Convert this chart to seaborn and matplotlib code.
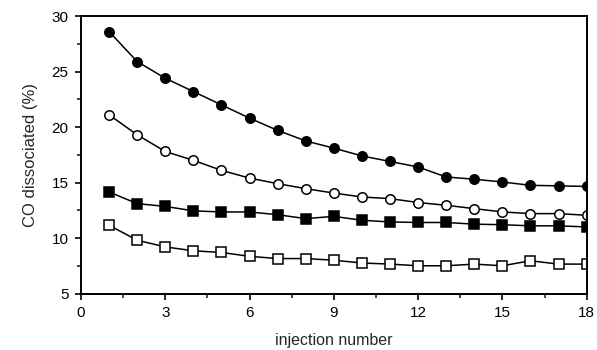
import matplotlib
matplotlib.use("Agg")
import matplotlib.pyplot as plt
import seaborn as sns
import pandas as pd
from matplotlib.ticker import MultipleLocator

injection = list(range(1, 19))
filled_circle = [28.6, 25.9, 24.4, 23.2, 22.0, 20.8, 19.7, 18.75, 18.1, 17.4, 16.9, 16.4, 15.5, 15.3, 15.05, 14.75, 14.7, 14.65]
open_circle = [21.1, 19.3, 17.8, 17.0, 16.1, 15.4, 14.9, 14.45, 14.05, 13.7, 13.55, 13.2, 12.95, 12.65, 12.35, 12.2, 12.2, 12.05]
filled_square = [14.15, 13.1, 12.85, 12.45, 12.35, 12.35, 12.1, 11.75, 11.95, 11.6, 11.45, 11.4, 11.4, 11.25, 11.2, 11.1, 11.1, 11.0]
open_square = [11.15, 9.8, 9.2, 8.85, 8.7, 8.35, 8.15, 8.15, 8.0, 7.75, 7.65, 7.5, 7.5, 7.65, 7.5, 7.95, 7.65, 7.65]

series = {
    "filled_circle": (filled_circle, "o", "black"),
    "open_circle": (open_circle, "o", "white"),
    "filled_square": (filled_square, "s", "black"),
    "open_square": (open_square, "s", "white"),
}

sns.set_style("ticks")
plt.rcParams['font.family'] = ['Liberation Sans', 'DejaVu Sans']

fig = plt.figure(figsize=(5.97, 3.5), dpi=100)
ax = fig.add_axes([0.1357, 0.1614, 0.847, 0.7926])

for name, (vals, mk, fc) in series.items():
    df = pd.DataFrame({"x": injection, "y": vals})
    sns.lineplot(data=df, x="x", y="y", ax=ax, color="black", linewidth=1.1,
                 marker=mk, markersize=6.8,
                 markerfacecolor=fc, markeredgecolor="black", markeredgewidth=1.1)

ax.set_xlim(0, 18)
ax.set_ylim(5, 30)
ax.xaxis.set_major_locator(MultipleLocator(3))
ax.xaxis.set_minor_locator(MultipleLocator(1.5))
ax.yaxis.set_major_locator(MultipleLocator(5))
ax.yaxis.set_minor_locator(MultipleLocator(2.5))
ax.tick_params(which="major", direction="out", length=4, width=1.2, labelsize=11, colors="black", pad=5)
ax.tick_params(which="minor", direction="out", length=3, width=1.2)
for s in ax.spines.values():
    s.set_linewidth(1.4)
    s.set_color("black")
ax.set_xlabel("injection number", fontsize=11.5, labelpad=9)
ax.set_ylabel("CO dissociated (%)", fontsize=12, labelpad=10)

fig.savefig("out.png", dpi=100)
